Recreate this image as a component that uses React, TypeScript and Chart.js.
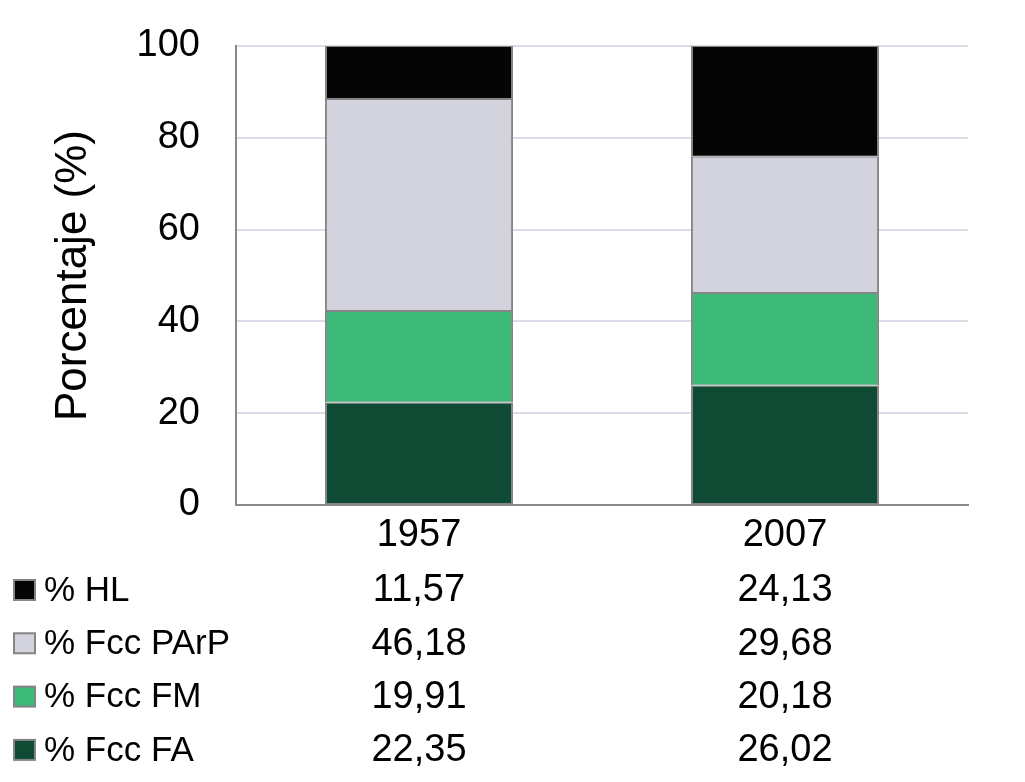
import React, { useEffect, useRef } from "react";
import { Chart, registerables } from "chart.js";

Chart.register(...registerables);

const categories = ["1957", "2007"];
const seriesLabels = ["% Fcc FA", "% Fcc FM", "% Fcc PArP", "% HL"];
const faValues = [22.35, 26.02];
const fmValues = [19.91, 20.18];
const parpValues = [46.18, 29.68];
const hlValues = [11.57, 24.13];
const seriesColors = ["#0f4a35", "#3dba78", "#d3d3de", "#050505"];
const yTicks = [0, 20, 40, 60, 80, 100];

const FONT = "'Liberation Sans', Arial, sans-serif";

const fmt = (v: number) => v.toFixed(2).replace(".", ",");

const tablePlugin = {
  id: "dataTable",
  afterDraw(chart: any) {
    const ctx = chart.ctx as CanvasRenderingContext2D;
    const xs = chart.scales.x;
    const rowStart = 590;
    const rowGap = 53.3;
    ctx.save();
    ctx.textBaseline = "middle";
    const order = [3, 2, 1, 0];
    order.forEach((dsIndex, r) => {
      const ds = chart.data.datasets[dsIndex];
      const y = rowStart + r * rowGap;
      ctx.fillStyle = ds.backgroundColor;
      ctx.fillRect(14, y - 10, 21, 20);
      ctx.strokeStyle = "#858585";
      ctx.lineWidth = 2;
      ctx.strokeRect(14, y - 10, 21, 20);
      ctx.fillStyle = "#000";
      ctx.textAlign = "left";
      ctx.font = `35px ${FONT}`;
      ctx.fillText(ds.label, 44, y + 1);
      ctx.textAlign = "center";
      ctx.font = `38px ${FONT}`;
      (ds.data as number[]).forEach((v, i) => {
        ctx.fillText(fmt(v), xs.getPixelForValue(i), y + 1);
      });
    });
    ctx.restore();
  },
};

export default function App() {
  const canvasRef = useRef<HTMLCanvasElement | null>(null);

  useEffect(() => {
    if (!canvasRef.current) return;
    const data = [faValues, fmValues, parpValues, hlValues];
    const chart = new Chart(canvasRef.current, {
      type: "bar",
      data: {
        labels: categories,
        datasets: seriesLabels.map((label, i) => ({
          label,
          data: data[i],
          backgroundColor: seriesColors[i],
          borderColor: "#858585",
          borderWidth: { top: 1, bottom: 1, left: 2, right: 2 },
          borderSkipped: false,
          categoryPercentage: 1,
          barPercentage: 0.514,
        })),
      },
      options: {
        animation: false,
        responsive: false,
        maintainAspectRatio: false,
        layout: { padding: { top: 46, right: 57, left: 0, bottom: 0 } },
        plugins: {
          legend: { display: false },
          tooltip: { enabled: false },
        },
        scales: {
          x: {
            stacked: true,
            grid: { display: false, drawTicks: false },
            border: { display: true, color: "#8a8a8a", width: 2 },
            ticks: {
              color: "#000",
              font: { family: FONT, size: 38 },
              padding: 8,
            },
            afterFit(scale: any) {
              scale.height = 277;
              scale.paddingLeft = 0;
              scale.paddingRight = 0;
            },
          },
          y: {
            stacked: true,
            min: 0,
            max: 100,
            afterBuildTicks(scale: any) {
              scale.ticks = yTicks.map((v) => ({ value: v }));
            },
            grid: { color: "#dcdce8", lineWidth: 2, drawTicks: false },
            border: { display: true, color: "#8a8a8a", width: 2 },
            ticks: {
              color: "#000",
              font: { family: FONT, size: 38 },
              padding: 36,
            },
            title: {
              display: true,
              text: "Porcentaje (%)",
              color: "#000",
              font: { family: FONT, size: 44 },
              padding: { top: 47, bottom: 0 },
            },
            afterFit(scale: any) {
              scale.width = 236;
              scale.paddingTop = 0;
              scale.paddingBottom = 0;
            },
          },
        },
      },
      plugins: [tablePlugin],
    });
    return () => chart.destroy();
  }, []);

  return (
    <div style={{ position: "fixed", left: 0, top: 0, width: 1025, height: 782, background: "#fff" }}>
      <canvas ref={canvasRef} width={1025} height={782} style={{ width: 1025, height: 782 }} />
    </div>
  );
}
